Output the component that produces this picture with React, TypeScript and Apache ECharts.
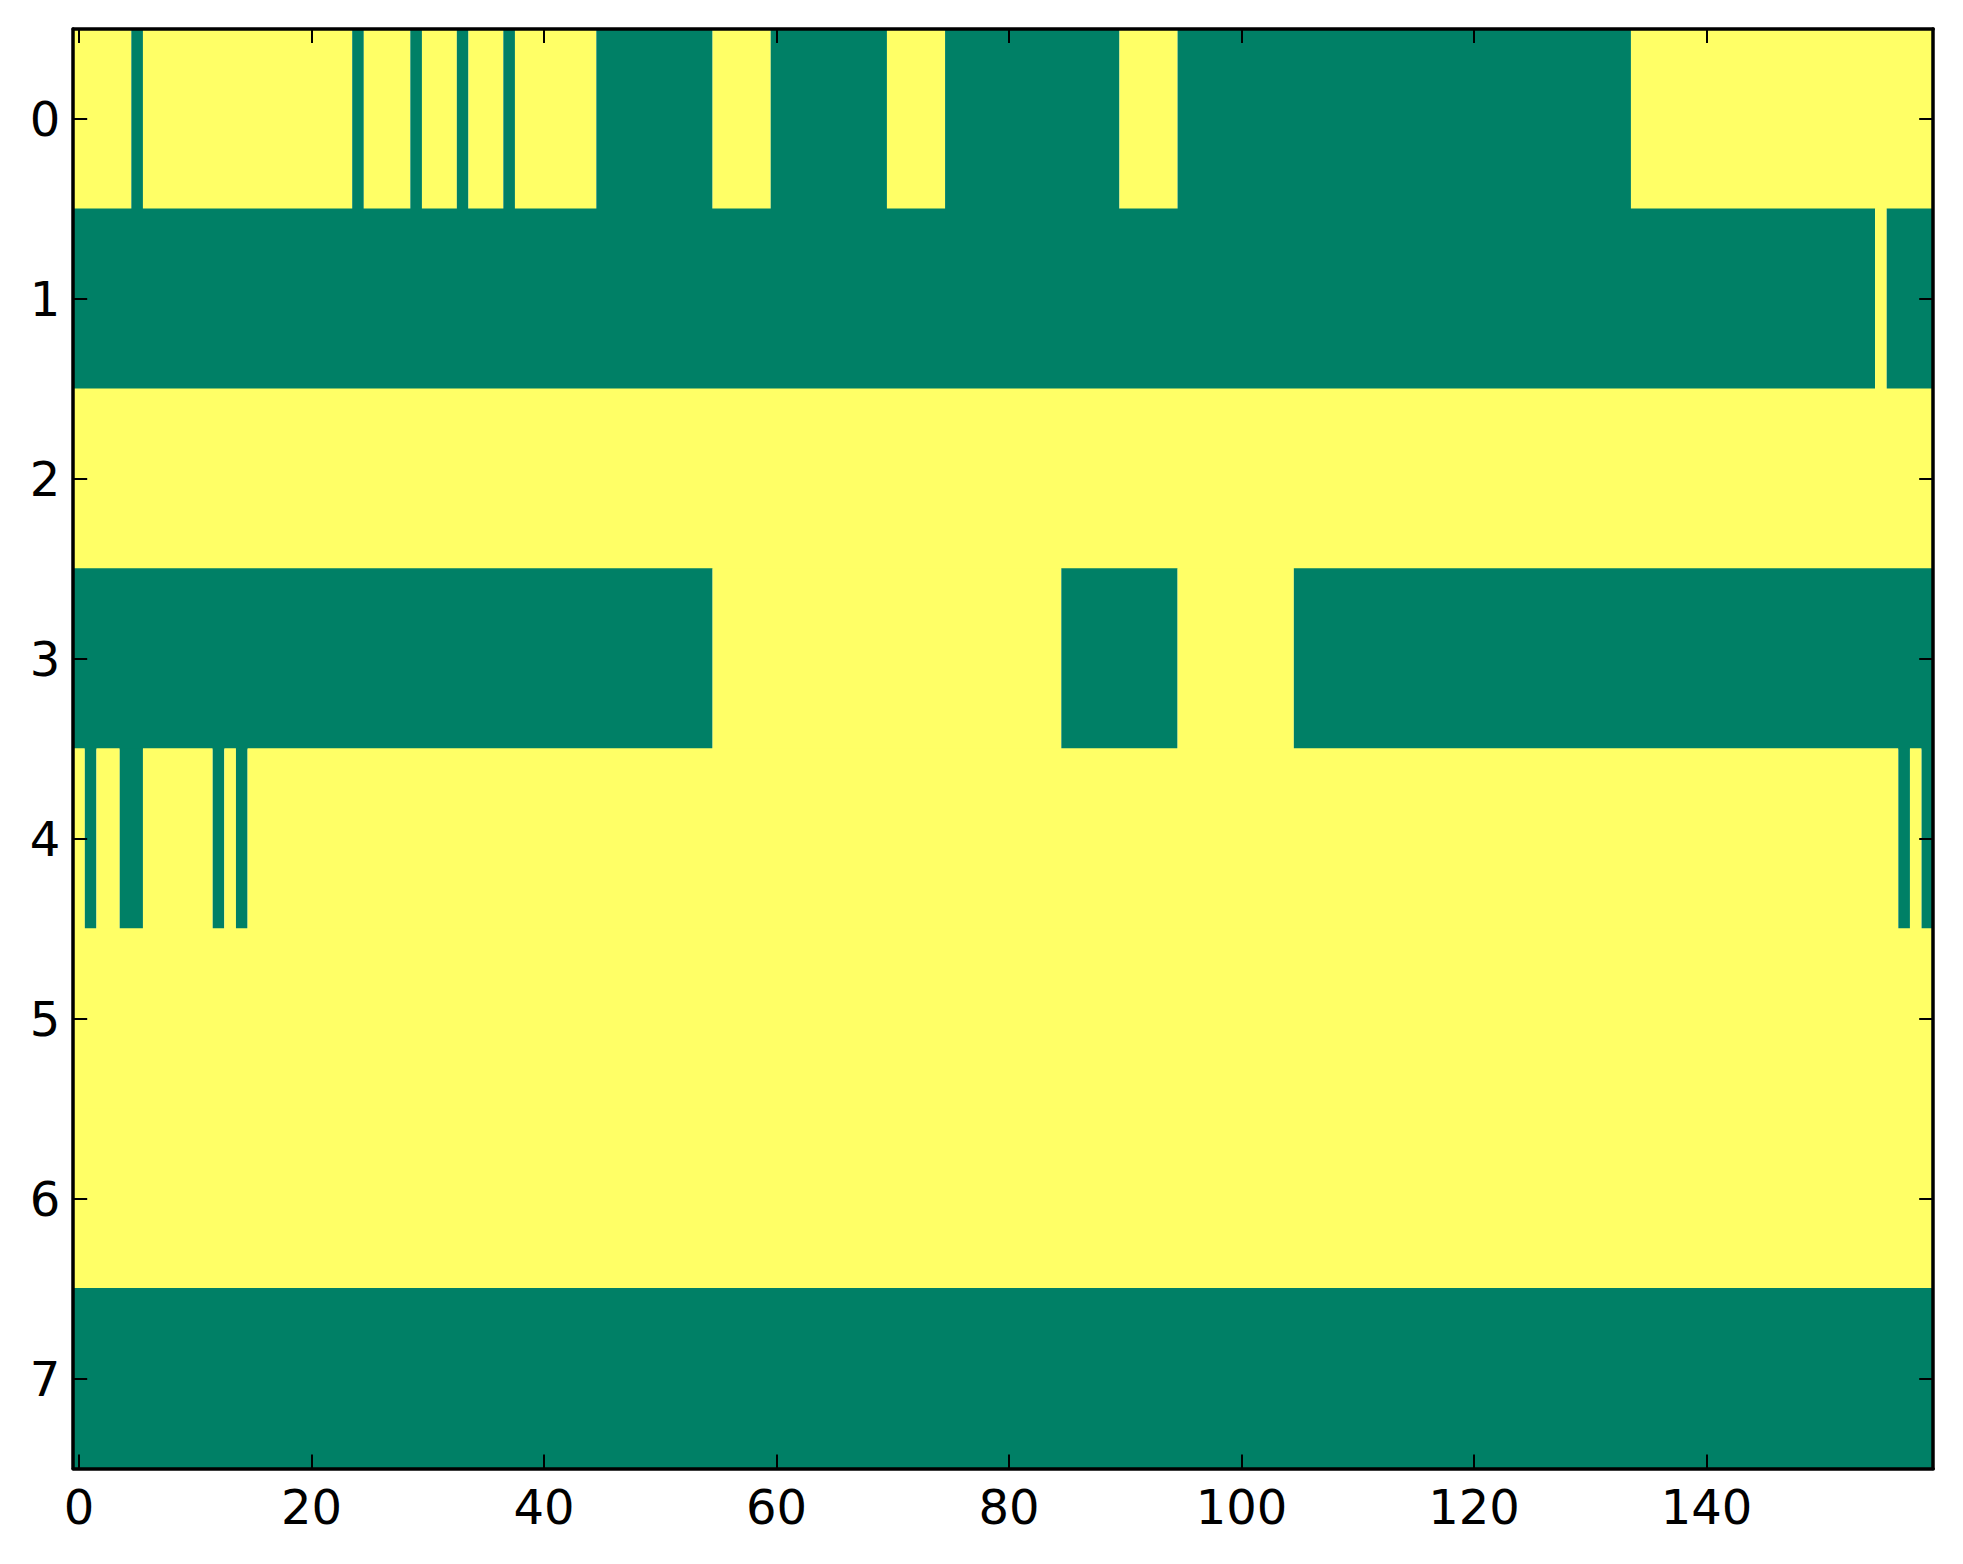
import React, { useEffect, useRef } from "react";
import * as echarts from "echarts";

// Colours (matplotlib "summer" colormap ends)
const GREEN = "#008066";
const YELLOW = "#ffff66";

// Each row as runs of [value, length]; value 1 = yellow, 0 = green
const row0: [number, number][] = [
  [1, 5], [0, 1], [1, 18], [0, 1], [1, 4], [0, 1], [1, 3], [0, 1], [1, 3], [0, 1],
  [1, 7], [0, 10], [1, 5], [0, 10], [1, 5], [0, 15], [1, 5], [0, 39], [1, 26],
];
const row1: [number, number][] = [[0, 155], [1, 1], [0, 4]];
const row2: [number, number][] = [[1, 160]];
const row3: [number, number][] = [[0, 55], [1, 30], [0, 10], [1, 10], [0, 55]];
const row4: [number, number][] = [
  [1, 1], [0, 1], [1, 2], [0, 2], [1, 6], [0, 1], [1, 1], [0, 1], [1, 142], [0, 1], [1, 1], [0, 1],
];
const row5: [number, number][] = [[1, 160]];
const row6: [number, number][] = [[1, 160]];
const row7: [number, number][] = [[0, 160]];
const rows = [row0, row1, row2, row3, row4, row5, row6, row7];

const NUM_COLUMNS = 160;
const xCategories = Array.from({ length: NUM_COLUMNS }, (_, i) => String(i));
const yCategories = ["0", "1", "2", "3", "4", "5", "6", "7"];
const xTickLabels = [0, 20, 40, 60, 80, 100, 120, 140];

// Build segments [startCol, endCol, row, value]
const segments: number[][] = [];
rows.forEach((runs, r) => {
  let start = 0;
  runs.forEach(([v, len]) => {
    segments.push([start, start + len - 1, r, v]);
    start += len;
  });
});

const FONT = "DejaVu Sans";
const xTickSet = new Set(xTickLabels);
const xInterval = (index: number) => xTickSet.has(index);

export default function App() {
  const ref = useRef<HTMLDivElement>(null);
  useEffect(() => {
    if (!ref.current) return;
    const chart = echarts.init(ref.current, null, { renderer: "svg" });
    const tickStyle = { show: true, inside: true, length: 14, lineStyle: { color: "#000", width: 2 } };
    const lineStyle = { show: true, onZero: false, lineStyle: { color: "#000", width: 3.5 } };
    chart.setOption({
      animation: false,
      backgroundColor: "#ffffff",
      grid: { left: 73.2, right: 29.8, top: 29, bottom: 95.5, containLabel: false, outerBoundsMode: "none" },
      xAxis: [
        {
          type: "category",
          data: xCategories,
          position: "bottom",
          boundaryGap: true,
          z: 10,
          axisLine: lineStyle,
          axisTick: { ...tickStyle, alignWithLabel: true, interval: xInterval },
          axisLabel: {
            interval: xInterval,
            margin: 14,
            fontSize: 48,
            fontFamily: FONT,
            color: "#000",
          },
          splitLine: { show: false },
        },
        {
          type: "category",
          data: xCategories,
          position: "top",
          boundaryGap: true,
          z: 10,
          axisLine: lineStyle,
          axisTick: { ...tickStyle, alignWithLabel: true, interval: xInterval },
          axisLabel: { show: false },
          splitLine: { show: false },
        },
      ],
      yAxis: [
        {
          type: "category",
          data: yCategories,
          inverse: true,
          position: "left",
          z: 10,
          axisLine: lineStyle,
          axisTick: { ...tickStyle, alignWithLabel: true, interval: 0 },
          axisLabel: { interval: 0, margin: 13, fontSize: 48, fontFamily: FONT, color: "#000" },
          splitLine: { show: false },
        },
        {
          type: "category",
          data: yCategories,
          inverse: true,
          position: "right",
          z: 10,
          axisLine: lineStyle,
          axisTick: { ...tickStyle, alignWithLabel: true, interval: 0 },
          axisLabel: { show: false },
          splitLine: { show: false },
        },
      ],
      series: [
        {
          type: "custom",
          xAxisIndex: 0,
          yAxisIndex: 0,
          z: 1,
          encode: { x: [0, 1], y: 2 },
          data: segments,
          renderItem: (params: any, api: any) => {
            const x0 = api.value(0);
            const x1 = api.value(1);
            const y = api.value(2);
            const v = api.value(3);
            const p0 = api.coord([x0, y]);
            const p1 = api.coord([x1, y]);
            const size = api.size([1, 1]);
            return {
              type: "rect",
              shape: {
                x: p0[0] - size[0] / 2,
                y: p0[1] - size[1] / 2 - 0.5,
                width: p1[0] - p0[0] + size[0],
                height: size[1] + 1,
              },
              style: { fill: v === 1 ? YELLOW : GREEN, stroke: null },
            };
          },
        },
      ],
    });
    return () => chart.dispose();
  }, []);
  return (
    <div
      ref={ref}
      style={{ position: "absolute", left: 0, top: 0, width: 1963, height: 1564, background: "#fff" }}
    />
  );
}
